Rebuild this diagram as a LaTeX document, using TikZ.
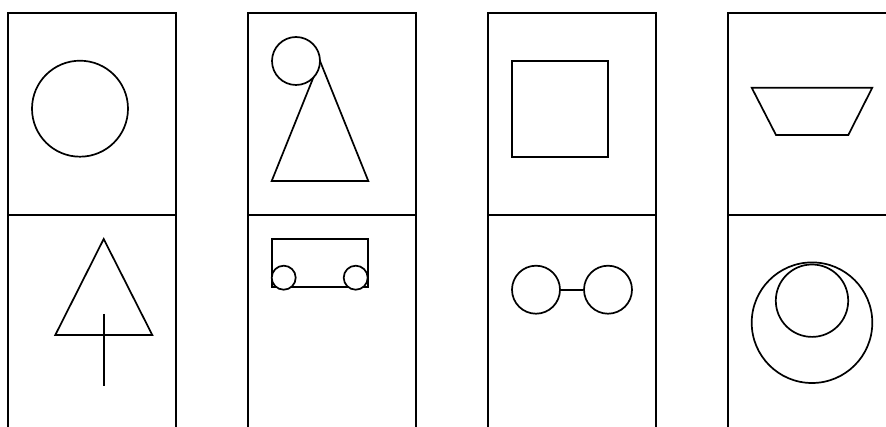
\documentclass[tikz,border=0pt]{standalone}
\begin{document}
\begin{tikzpicture}[x=1pt,y=-1pt,
  frame/.style={line width=2pt},
  figline/.style={line width=1.7pt},
  ring/.style={circle,draw,line width=1.7pt,inner sep=0pt,fill=white}]
\useasboundingbox (0,0) rectangle (886,427);
% panel frames
\foreach \l/\r in {8/176,248/416,488/656}{
  \draw[frame] (\l,427) -- (\l,13) -- (\r,13) -- (\r,427);
  \draw[frame] (\l,215) -- (\r,215);
}
\draw[frame] (728,427) -- (728,13) -- (886,13);
\draw[frame] (728,215) -- (886,215);
% panel 1
\draw[figline] (80,108.7) circle (48);
\draw[figline] (103.7,239) -- (152.3,335) -- (55.3,335) -- cycle;
\draw[figline] (104,314) -- (104,386);
% panel 2
\draw[figline] (320,61) -- (368.3,181) -- (271.7,181) -- cycle;
\node[ring,minimum size=48pt] (head) at (296,61) {};
\draw[figline] (271.7,239) rectangle (368,287);
\node[ring,minimum size=24pt] (w1) at (283.7,277.7) {};
\node[ring,minimum size=24pt] (w2) at (355.7,277.7) {};
% panel 3
\draw[figline] (511.7,61) rectangle (608,156.7);
\node[ring,minimum size=48pt] (c1) at (536,289.7) {};
\node[ring,minimum size=48pt] (c2) at (608,289.7) {};
\draw[figline] (c1) -- (c2);
% panel 4
\draw[figline] (751.7,87.7) -- (872.3,87.7) -- (848.3,135) -- (776,135) -- cycle;
\draw[figline] (812,322.7) circle (60.3);
\draw[figline] (812,300.7) circle (36.2);
\end{tikzpicture}
\end{document}
